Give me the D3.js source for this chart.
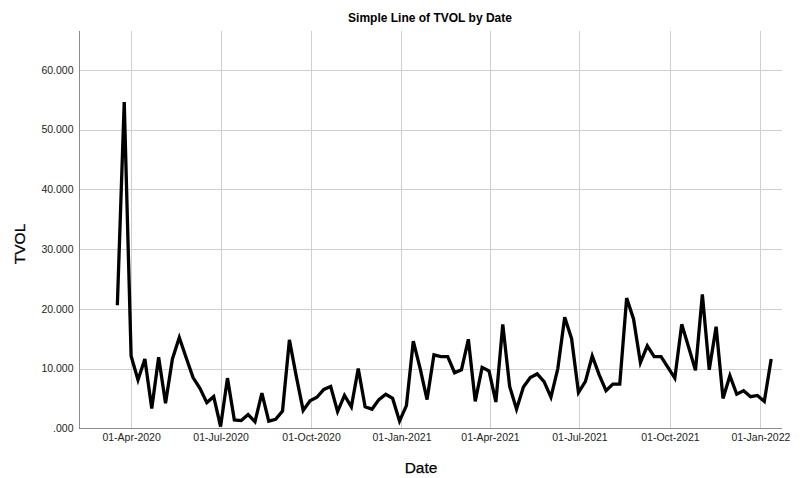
<!DOCTYPE html>
<html>
<head>
<meta charset="utf-8">
<script src="https://cdn.jsdelivr.net/npm/d3@7/dist/d3.min.js"></script>
<style>
  html, body { margin: 0; padding: 0; background: #fff; }
  svg { display: block; font-family: "Liberation Sans", Arial, sans-serif; }
</style>
</head>
<body>
<svg id="chart" width="812" height="478"></svg>
<script>
// Weekly TVOL observations, first week starting 18 Mar 2020
const firstWeek = "2020-03-18";
const tvol = [
  20.6, 54.6, 12.1, 8.1, 11.6, 3.3, 11.9, 4.2, 11.6, 15.2,
  11.8, 8.5, 6.7, 4.3, 5.3, 0.3, 8.4, 1.4, 1.3, 2.3,
  1.1, 5.9, 1.2, 1.5, 2.9, 14.8, 8.7, 3.0, 4.6, 5.2,
  6.5, 7.0, 2.8, 5.5, 3.6, 10.0, 3.6, 3.2, 4.8, 5.7,
  5.0, 1.2, 3.8, 14.6, 10.0, 4.8, 12.3, 12.0, 12.0, 9.3,
  9.8, 14.9, 4.5, 10.2, 9.6, 4.4, 17.4, 7.0, 3.2, 6.9,
  8.5, 9.1, 7.8, 5.2, 10.0, 18.6, 15.0, 6.0, 7.8, 12.1,
  9.0, 6.3, 7.4, 7.4, 21.8, 18.3, 11.0, 13.8, 12.0, 12.0,
  10.2, 8.4, 17.4, 13.6, 9.7, 22.4, 9.8, 17.0, 5.0, 8.8,
  5.7, 6.3, 5.3, 5.5, 4.5, 11.6
];

// Axis tick positions and their labels
const xTickDates = ["2020-04-01", "2020-07-01", "2020-10-01", "2021-01-01",
                    "2021-04-01", "2021-07-01", "2021-10-01", "2022-01-01"];
const xTickLabels = ["01-Apr-2020", "01-Jul-2020", "01-Oct-2020", "01-Jan-2021",
                     "01-Apr-2021", "01-Jul-2021", "01-Oct-2021", "01-Jan-2022"];
const yTickValues = [0, 10, 20, 30, 40, 50, 60];
const yTickLabels = [".000", "10.000", "20.000", "30.000", "40.000", "50.000", "60.000"];

const parse = d3.utcParse("%Y-%m-%d");
const start = parse(firstWeek);
const data = tvol.map((v, i) => ({ date: d3.utcDay.offset(start, 7 * i), value: v }));

const svg = d3.select("#chart");
const plot = { left: 79, right: 782, top: 31, bottom: 428.3 };

const x = d3.scaleUtc()
  .domain([parse("2020-02-08"), parse("2022-01-23")])
  .range([plot.left, plot.right]);
const y = d3.scaleLinear()
  .domain([0, 66.5])
  .range([plot.bottom, plot.top]);

svg.append("rect").attr("width", 812).attr("height", 478).attr("fill", "#fff");

// Gridlines
const grid = svg.append("g").attr("stroke", "#cfcfcf").attr("stroke-width", 1);
grid.selectAll("line.h").data(yTickValues.filter(v => v > 0)).join("line")
  .attr("class", "h")
  .attr("x1", plot.left).attr("x2", plot.right)
  .attr("y1", d => Math.round(y(d)) + 0.5).attr("y2", d => Math.round(y(d)) + 0.5);
grid.selectAll("line.v").data(xTickDates).join("line")
  .attr("class", "v")
  .attr("x1", d => Math.round(x(parse(d))) + 0.5).attr("x2", d => Math.round(x(parse(d))) + 0.5)
  .attr("y1", plot.top).attr("y2", plot.bottom);

// Axes
const xAxis = d3.axisBottom(x)
  .tickValues(xTickDates.map(parse))
  .tickSize(0)
  .tickPadding(5)
  .tickFormat((d, i) => xTickLabels[i]);
const gx = svg.append("g").attr("transform", `translate(0,${Math.round(plot.bottom) + 0.5})`).call(xAxis);
gx.select(".domain").attr("stroke", "#8c8c8c").attr("d", `M${plot.left},0H${plot.right}`);
gx.selectAll("text").attr("font-size", 10.5).attr("fill", "#222")
  .attr("font-family", "'Liberation Sans', Arial, sans-serif");

const yAxis = d3.axisLeft(y)
  .tickValues(yTickValues)
  .tickSize(0)
  .tickPadding(6)
  .tickFormat((d, i) => yTickLabels[i]);
const gy = svg.append("g").attr("transform", `translate(${plot.left + 0.5},0)`).call(yAxis);
gy.select(".domain").attr("stroke", "#8c8c8c").attr("d", `M0,${plot.top}V${plot.bottom}`);
gy.selectAll("text").attr("font-size", 10.5).attr("fill", "#222")
  .attr("font-family", "'Liberation Sans', Arial, sans-serif");

// Series line
const line = d3.line().x(d => x(d.date)).y(d => y(d.value));
svg.append("path")
  .datum(data)
  .attr("fill", "none")
  .attr("stroke", "#000")
  .attr("stroke-width", 3.3)
  .attr("d", line);

// Titles
svg.append("text")
  .attr("x", 430).attr("y", 22)
  .attr("text-anchor", "middle")
  .attr("font-size", 12).attr("font-weight", "bold").attr("fill", "#000")
  .text("Simple Line of TVOL by Date");
svg.append("text")
  .attr("x", 421).attr("y", 473)
  .attr("text-anchor", "middle")
  .attr("font-size", 15.5).attr("fill", "#000")
  .attr("stroke", "#000").attr("stroke-width", 0.25)
  .text("Date");
svg.append("text")
  .attr("transform", "translate(25,244) rotate(-90)")
  .attr("text-anchor", "middle")
  .attr("font-size", 15.5).attr("fill", "#000")
  .attr("stroke", "#000").attr("stroke-width", 0.25)
  .text("TVOL");
</script>
</body>
</html>
